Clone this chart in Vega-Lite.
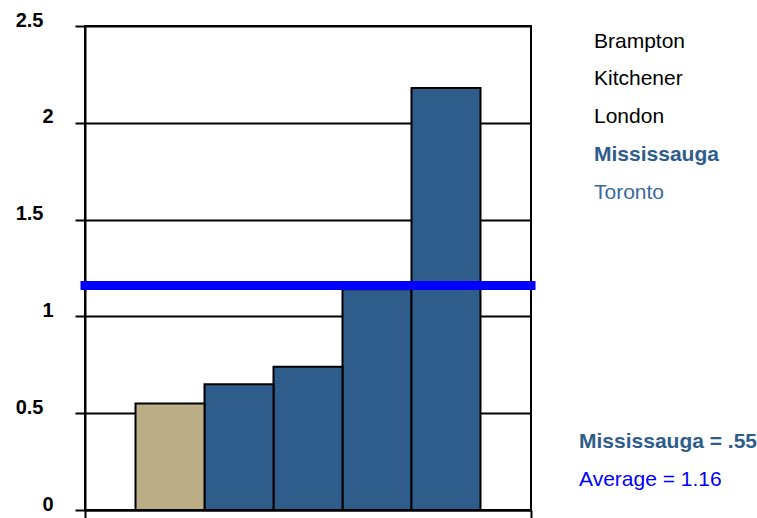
{
  "$schema": "https://vega.github.io/schema/vega-lite/v6.json",
  "padding": {"left": 14, "top": 9, "right": 0, "bottom": 0},
  "background": "white",
  "config": {
    "font": "Liberation Sans",
    "view": {"stroke": "black", "strokeWidth": 2},
    "concat": {"spacing": 20}
  },
  "bounds": "flush",
  "datasets": {
    "cities": [
      {"city": "Brampton", "value": 1.14},
      {"city": "Kitchener", "value": 0.74},
      {"city": "London", "value": 0.65},
      {"city": "Mississauga", "value": 0.55},
      {"city": "Toronto", "value": 2.18}
    ],
    "stats": [
      {"name": "Mississauga", "value": 0.55},
      {"name": "Average", "value": 1.16}
    ]
  },
  "hconcat": [
    {
      "width": 446,
      "height": 484,
      "layer": [
        {
          "data": {"name": "cities"},
          "transform": [
            {"window": [{"op": "row_number", "as": "rank"}], "sort": [{"field": "value", "order": "ascending"}]}
          ],
          "mark": {"type": "bar", "width": 69, "stroke": "black", "strokeWidth": 2},
          "encoding": {
            "x": {
              "field": "rank",
              "type": "quantitative",
              "scale": {"domain": [-0.232, 6.232], "nice": false, "zero": false, "padding": 0},
              "axis": {
                "values": [-0.232, 6.232],
                "labels": false,
                "title": null,
                "grid": false,
                "ticks": true,
                "tickSize": 9,
                "tickWidth": 2,
                "tickColor": "black",
                "domainColor": "black",
                "domainWidth": 2
              }
            },
            "y": {
              "field": "value",
              "type": "quantitative",
              "scale": {"domain": [0, 2.5], "nice": false},
              "axis": {
                "values": [0, 0.5, 1, 1.5, 2, 2.5],
                "format": ".1~f",
                "title": null,
                "grid": true,
                "gridColor": "black",
                "gridWidth": 2,
                "gridOpacity": 1,
                "domainColor": "black",
                "domainWidth": 2,
                "tickColor": "black",
                "tickWidth": 2,
                "tickSize": 10,
                "labelFont": "Liberation Sans",
                "labelFontWeight": "bold",
                "labelFontSize": 20,
                "labelColor": "black",
                "labelBaseline": "alphabetic",
                "labelPadding": {"condition": {"test": "datum.value % 1 === 0", "value": 22}, "value": 32},
                "labelFlush": false,
                "labelOverlap": false
              }
            },
            "color": {
              "condition": {"test": "datum.city === 'Mississauga'", "value": "#BBAD86"},
              "value": "#2E5D8C"
            }
          }
        },
        {
          "data": {"name": "stats"},
          "transform": [{"filter": "datum.name === 'Average'"}],
          "mark": {"type": "rule", "color": "#0000FF", "strokeWidth": 9, "strokeCap": "square"},
          "encoding": {
            "y": {"field": "value", "type": "quantitative"}
          }
        }
      ]
    },
    {
      "spacing": 208,
      "vconcat": [
        {
          "width": 86,
          "height": 194.6,
          "view": {"stroke": null},
          "data": {"name": "cities"},
          "layer": [
            {
              "transform": [{"filter": "datum.city !== 'Mississauga'"}],
              "mark": {"type": "text", "align": "left", "baseline": "alphabetic", "fontSize": 21, "font": "Liberation Sans"},
              "encoding": {
                "y": {
                  "field": "city",
                  "type": "ordinal",
                  "scale": {"type": "point", "padding": 0.574, "domain": ["Brampton", "Kitchener", "London", "Mississauga", "Toronto"]},
                  "axis": null
                },
                "text": {"field": "city"},
                "color": {
                  "condition": {"test": "datum.city === 'Toronto'", "value": "#3A6A9E"},
                  "value": "black"
                }
              }
            },
            {
              "transform": [{"filter": "datum.city === 'Mississauga'"}],
              "mark": {"type": "text", "align": "left", "baseline": "alphabetic", "fontSize": 21, "fontWeight": "bold", "font": "Liberation Sans", "color": "#2E5D8C"},
              "encoding": {
                "y": {"field": "city", "type": "ordinal", "axis": null},
                "text": {"field": "city"}
              }
            }
          ]
        },
        {
          "width": 56,
          "height": 76.6,
          "view": {"stroke": null},
          "data": {"name": "stats"},
          "transform": [
            {"calculate": "datum.name + ' = ' + (datum.value < 1 ? substring(format(datum.value, '.2f'), 1) : format(datum.value, '.2f'))", "as": "label"}
          ],
          "layer": [
            {
              "transform": [{"filter": "datum.name === 'Mississauga'"}],
              "mark": {"type": "text", "align": "left", "baseline": "alphabetic", "fontSize": 21, "fontWeight": "bold", "font": "Liberation Sans", "color": "#2E5D8C"},
              "encoding": {
                "y": {
                  "field": "name",
                  "type": "ordinal",
                  "scale": {"type": "point", "padding": 0.5, "domain": ["Mississauga", "Average"]},
                  "axis": null
                },
                "text": {"field": "label"}
              }
            },
            {
              "transform": [{"filter": "datum.name === 'Average'"}],
              "mark": {"type": "text", "align": "left", "baseline": "alphabetic", "fontSize": 21, "font": "Liberation Sans", "color": "#0000FF"},
              "encoding": {
                "y": {"field": "name", "type": "ordinal", "axis": null},
                "text": {"field": "label"}
              }
            }
          ]
        }
      ]
    }
  ]
}
